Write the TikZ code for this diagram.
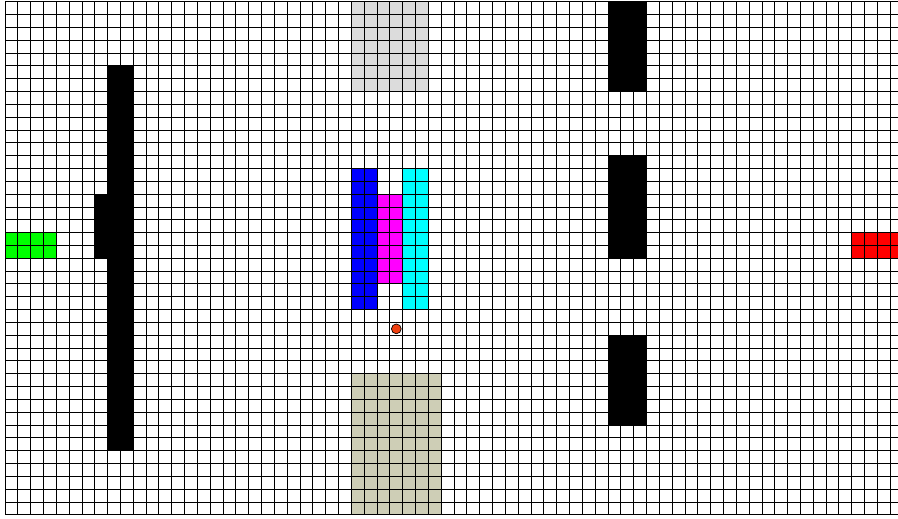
\documentclass[tikz,border=0pt]{standalone}
\definecolor{lightgraycell}{RGB}{220,220,220}
\definecolor{tancell}{RGB}{206,206,182}
\definecolor{dotred}{RGB}{240,64,16}
\definecolor{puremagenta}{RGB}{255,0,255}
\definecolor{purecyan}{RGB}{0,255,255}
\definecolor{pureblue}{RGB}{0,0,255}
\definecolor{puregreen}{RGB}{0,255,0}
\definecolor{purered}{RGB}{255,0,0}
\tikzset{
  gridline/.style={black, line width=0.95pt},
}
\begin{document}
\begin{tikzpicture}[x=1pt,y=-1pt]
\useasboundingbox (0,0) rectangle (898,519);
\fill[white] (0,0) rectangle (898,519);
\clip (0,0) rectangle (898,519);
\begin{scope}[shift={(5,1.7)}]
\begin{scope}[x=12.83pt,y=-12.83pt]
  % coloured cells
  \fill[lightgraycell] (27,0) rectangle (33,7);
  \fill[tancell] (27,29) rectangle (34,40);
  \fill[pureblue] (27,13) rectangle (29,24);
  \fill[puremagenta] (29,15) rectangle (31,22);
  \fill[purecyan] (31,13) rectangle (33,24);
  \fill[puregreen] (0,18) rectangle (4,20);
  \fill[purered] (66,18) rectangle (70,20);
  % black walls
  \fill[black] (8,5) rectangle (10,35);
  \fill[black] (7,15) rectangle (8,20);
  \fill[black] (47,0) rectangle (50,7);
  \fill[black] (47,12) rectangle (50,20);
  \fill[black] (47,26) rectangle (50,33);
  % grid
  \foreach \i in {0,...,70} {\draw[gridline] (\i,0) -- (\i,40);}
  \foreach \j in {0,...,40} {\draw[gridline] (0,\j) -- (70,\j);}
  % agent
  \filldraw[fill=dotred, draw=black, line width=0.7pt] (30.5,25.5) circle[radius=4.9pt];
\end{scope}
\end{scope}
\end{tikzpicture}
\end{document}
